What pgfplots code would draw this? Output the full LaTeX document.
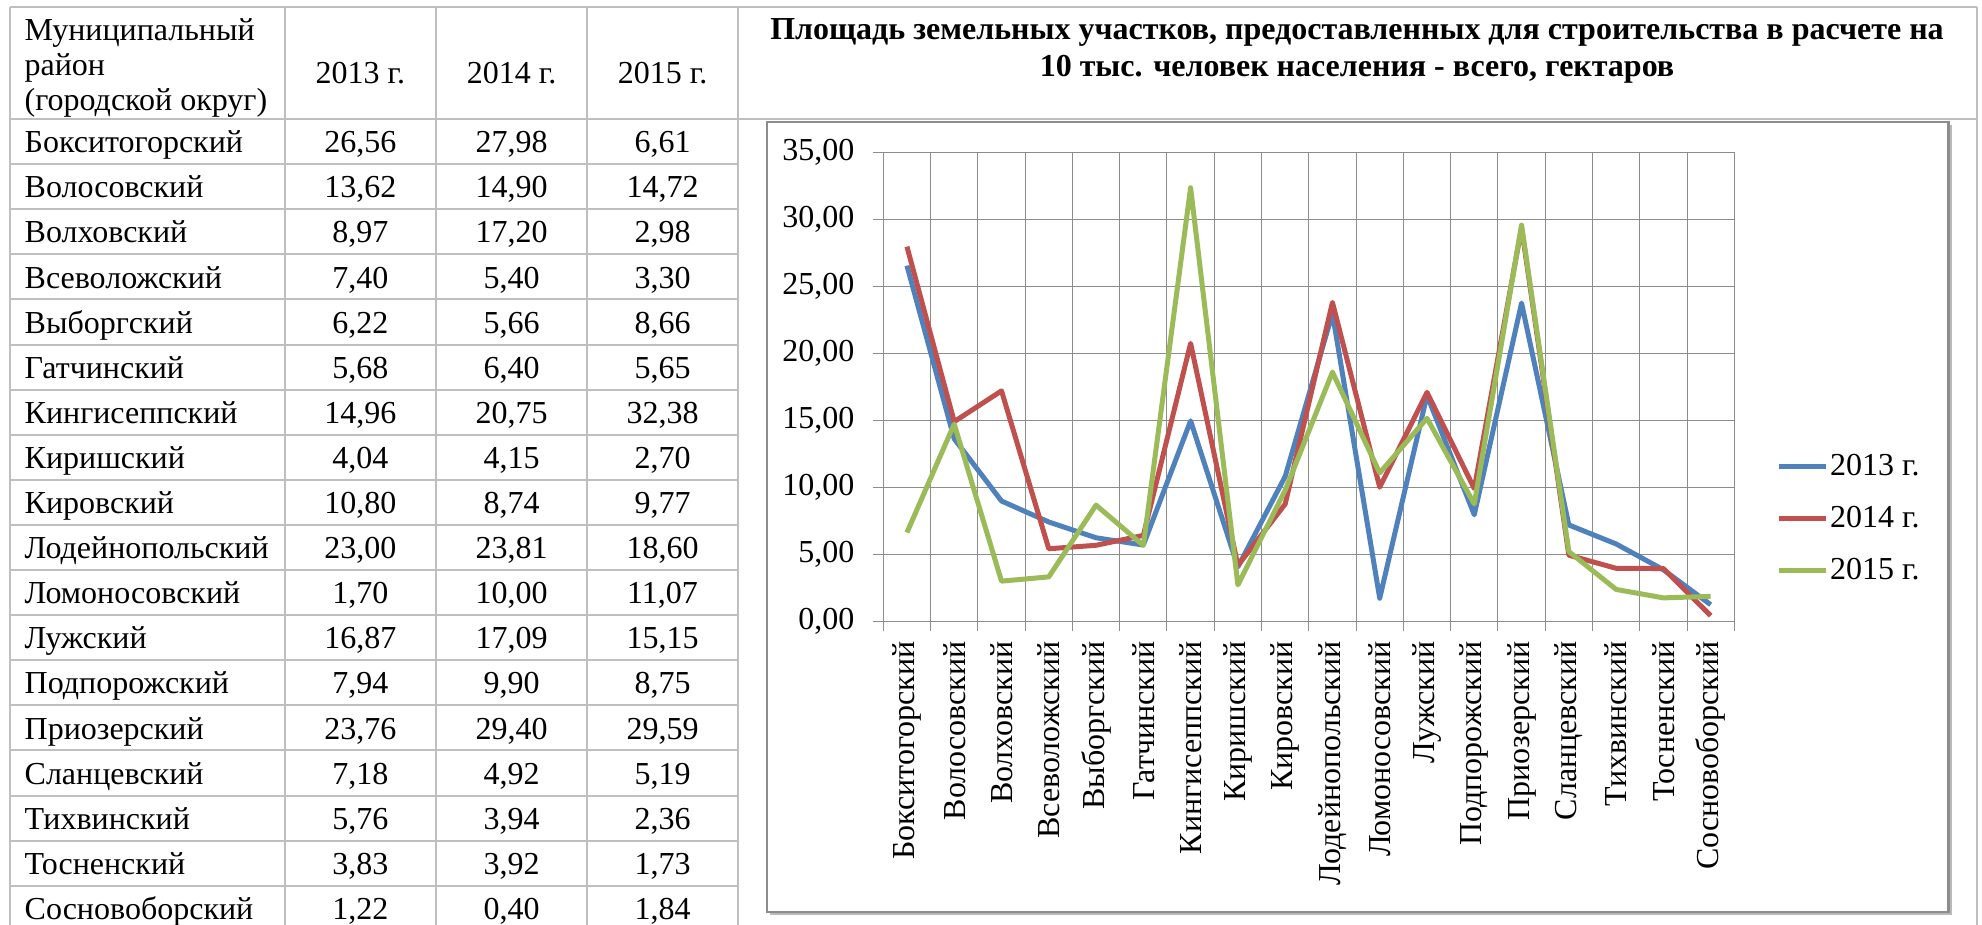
\documentclass[border=0pt]{standalone}
\usepackage{fontspec}
\setmainfont{Liberation Serif}
\usepackage{pgfplots}
\usepackage{pgfplotstable}
\pgfplotsset{compat=1.18}
\pgfkeys{/pgf/number format/assume math mode=true}

\definecolor{s13}{HTML}{4F81BD}
\definecolor{s14}{HTML}{C0504D}
\definecolor{s15}{HTML}{9BBB59}
\definecolor{tbl}{HTML}{BFBFBF}
\definecolor{grd}{HTML}{8C8C8C}
\definecolor{frm}{HTML}{8C8C8C}
\newcommand\tf{\fontsize{9.6}{11.5}\selectfont}

% площадь участков на 10 тыс. человек, га
\pgfplotstableread{
name y13 y14 y15
Бокситогорский 26.56 27.98 6.61
Волосовский 13.62 14.90 14.72
Волховский 8.97 17.20 2.98
Всеволожский 7.40 5.40 3.30
Выборгский 6.22 5.66 8.66
Гатчинский 5.68 6.40 5.65
Кингисеппский 14.96 20.75 32.38
Киришский 4.04 4.15 2.70
Кировский 10.80 8.74 9.77
Лодейнопольский 23.00 23.81 18.60
Ломоносовский 1.70 10.00 11.07
Лужский 16.87 17.09 15.15
Подпорожский 7.94 9.90 8.75
Приозерский 23.76 29.40 29.59
Сланцевский 7.18 4.92 5.19
Тихвинский 5.76 3.94 2.36
Тосненский 3.83 3.92 1.73
Сосновоборский 1.22 0.40 1.84
}\datatab

\begin{document}
\begin{tikzpicture}[x=0.3pt,y=-0.3pt]
\useasboundingbox (0,0) rectangle (1982,924);
\clip (0,0) rectangle (1982,924);

% table lines
\begin{scope}[tbl, line width=0.6pt]
  \draw (10,7.3) -- (1976.7,7.3);
  \draw (10,119) -- (1976.7,119);
  \foreach \k in {1,...,18} \draw (10,{119+45.1*\k}) -- (737.7,{119+45.1*\k});
  \foreach \xx in {10,285,435.7,587.3,737.7,1976.7} \draw (\xx,7.3) -- (\xx,940);
\end{scope}

% header
\node[anchor=base west, inner sep=0pt, font=\tf] at (24,40) {Муниципальный};
\node[anchor=base west, inner sep=0pt, font=\tf] at (24,75) {район};
\node[anchor=base west, inner sep=0pt, font=\tf] at (24,110) {(городской округ)};
\node[anchor=base, inner sep=0pt, font=\tf] at (360.4,83) {2013 г.};
\node[anchor=base, inner sep=0pt, font=\tf] at (511.5,83) {2014 г.};
\node[anchor=base, inner sep=0pt, font=\tf] at (662.5,83) {2015 г.};

% rows
\foreach \i in {0,...,17}{
  \pgfplotstablegetelem{\i}{name}\of\datatab
  \node[anchor=base west, inner sep=0pt, font=\tf] at (24,{152.7+45.1*\i}) {\pgfplotsretval};
  \pgfplotstablegetelem{\i}{y13}\of\datatab
  \node[anchor=base, inner sep=0pt, font=\tf] at (360.4,{152.7+45.1*\i}) {\pgfmathprintnumber[fixed,fixed zerofill,precision=2,use comma]{\pgfplotsretval}};
  \pgfplotstablegetelem{\i}{y14}\of\datatab
  \node[anchor=base, inner sep=0pt, font=\tf] at (511.5,{152.7+45.1*\i}) {\pgfmathprintnumber[fixed,fixed zerofill,precision=2,use comma]{\pgfplotsretval}};
  \pgfplotstablegetelem{\i}{y15}\of\datatab
  \node[anchor=base, inner sep=0pt, font=\tf] at (662.5,{152.7+45.1*\i}) {\pgfmathprintnumber[fixed,fixed zerofill,precision=2,use comma]{\pgfplotsretval}};
}

% title
\node[anchor=base, inner sep=0pt, font=\fontsize{9.6}{11.5}\selectfont\bfseries] at (1357,39.5) {Площадь земельных участков, предоставленных для строительства в расчете на};
\node[anchor=base, inner sep=0pt, font=\fontsize{9.6}{11.5}\selectfont\bfseries] at (1357,76) {10 тыс. человек населения - всего, гектаров};

% chart frame
\draw[gray!55, line width=0.6pt] (1950.8,124.5) -- (1950.8,914.2) -- (769.5,914.2);
\draw[frm, line width=0.7pt] (766.7,121.7) rectangle (1948.3,911.7);

\begin{axis}[
  at={(264.99pt,-186.3pt)}, anchor=south west,
  scale only axis, width=255.3pt, height=140.5pt,
  xmin=-0.5, xmax=17.5, ymin=0, ymax=35,
  xtick={0,...,17}, xticklabels from table={\datatab}{name},
  minor xtick={-0.5,0.5,...,17.5},
  ytick={0,5,...,35},
  xminorgrids=true, ymajorgrids=true,
  grid style={grd, line width=0.3pt},
  minor grid style={grd, line width=0.3pt},
  axis line style={grd, line width=0.3pt},
  tick align=outside, tick pos=left,
  major tick length=3.2pt, minor tick length=3pt,
  tick style={grd, line width=0.3pt},
  major x tick style={draw=none},
  xticklabel style={font=\tf, rotate=90, anchor=east, inner sep=0pt},
  xticklabel shift=2.7pt,
  yticklabel style={font=\tf, inner sep=0pt, /pgf/number format/fixed, /pgf/number format/fixed zerofill, /pgf/number format/precision=2, /pgf/number format/use comma},
  yticklabel shift=5.3pt,
  legend style={at={(1.049,0.218)}, anchor=west, draw=none, fill=none, font=\tf, row sep=6.7pt, inner sep=0pt, nodes={inner sep=0.5pt}},
  legend cell align=left,
  legend image code/.code={\draw[#1] (0pt,0pt) -- (14pt,0pt);},
  every axis plot/.append style={line width=1.5pt, line join=round, no marks},
]
\addplot[s13] table[x expr=\coordindex, y=y13] {\datatab};
\addlegendentry{2013 г.}
\addplot[s14] table[x expr=\coordindex, y=y14] {\datatab};
\addlegendentry{2014 г.}
\addplot[s15] table[x expr=\coordindex, y=y15] {\datatab};
\addlegendentry{2015 г.}
\end{axis}
\end{tikzpicture}
\end{document}
